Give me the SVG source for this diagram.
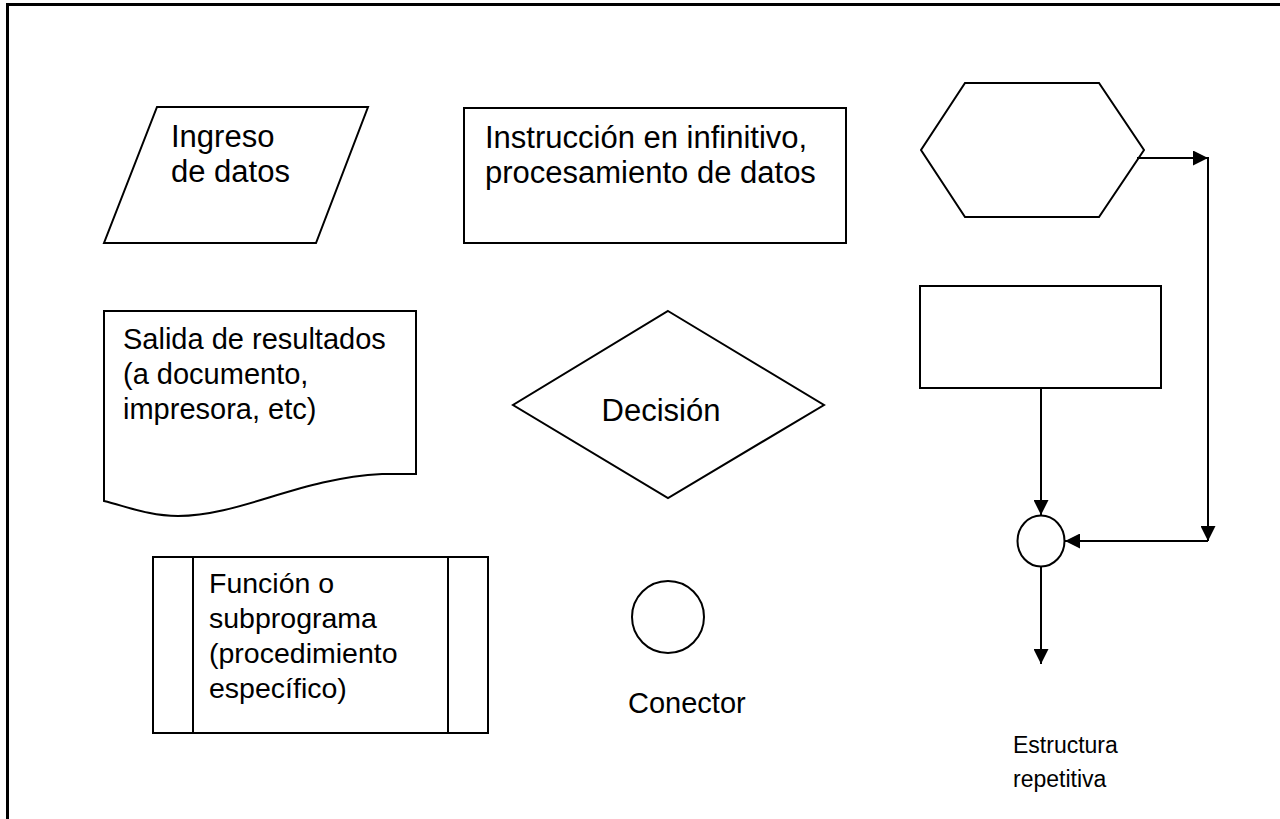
<svg xmlns="http://www.w3.org/2000/svg" width="1280" height="819" viewBox="0 0 1280 819">
<defs>
<style>
.s{fill:#fff;stroke:#000;stroke-width:2}
.l{fill:none;stroke:#000;stroke-width:2}
.t{font-family:"Liberation Sans",Arial,sans-serif;font-size:31px;fill:#000}
.m{font-family:"Liberation Sans",Arial,sans-serif;font-size:29px;fill:#000}
.f{font-family:"Liberation Sans",Arial,sans-serif;font-size:28.5px;fill:#000}
.e{font-family:"Liberation Sans",Arial,sans-serif;font-size:23px;fill:#000}
</style>
<marker id="ah" viewBox="0 0 10 10" refX="10" refY="5" markerWidth="15" markerHeight="15" markerUnits="userSpaceOnUse" orient="auto">
<path d="M0,0 L10,5 L0,10 z" fill="#000"/>
</marker>
</defs>
<rect width="1280" height="819" fill="#fff"/>
<path d="M7.5,819 V4.5 H1280" fill="none" stroke="#000" stroke-width="3"/>
<g id="ingreso">
<polygon class="s" points="157,107 368,107 316,243 104,243"/>
<text class="t"><tspan x="171" y="147">Ingreso</tspan><tspan x="171" y="182">de datos</tspan></text>
</g>
<g id="proceso">
<rect class="s" x="464" y="108" width="382" height="135"/>
<text class="t"><tspan x="485" y="148">Instrucción en infinitivo,</tspan><tspan x="485" y="183">procesamiento de datos</tspan></text>
</g>
<g id="hexagono">
<polygon class="s" points="965,83 1099,83 1144,150 1099,217 965,217 921,150"/>
</g>
<g id="salida">
<path class="s" d="M104,311 H416 V474 H382 C300,478 240,516 178,516 C150,516 128,507 104,501 Z"/>
<text class="m"><tspan x="123" y="349">Salida de resultados</tspan><tspan x="123" y="384">(a documento,</tspan><tspan x="123" y="419">impresora, etc)</tspan></text>
</g>
<g id="decision">
<polygon class="s" points="668,311 824,405 668,498 513,405"/>
<text class="t" x="661" y="421" text-anchor="middle">Decisión</text>
</g>
<g id="funcion">
<rect class="s" x="153" y="557" width="335" height="176"/>
<line class="l" x1="193" y1="557" x2="193" y2="733"/>
<line class="l" x1="448" y1="557" x2="448" y2="733"/>
<text class="f"><tspan x="209" y="593">Función o</tspan><tspan x="209" y="628">subprograma</tspan><tspan x="209" y="663">(procedimiento</tspan><tspan x="209" y="698">específico)</tspan></text>
</g>
<g id="conector">
<circle class="s" cx="668" cy="617" r="36"/>
<text class="m" x="628" y="713">Conector</text>
</g>
<g id="bloque">
<rect class="s" x="920" y="286" width="241" height="102"/>
</g>
<g id="union">
<ellipse class="s" cx="1041" cy="541" rx="23.5" ry="25.5"/>
</g>
<g id="etiqueta">
<text class="e"><tspan x="1013" y="753">Estructura</tspan><tspan x="1013" y="787">repetitiva</tspan></text>
</g>
<g id="conectores">
<line class="l" x1="1137" y1="158" x2="1208" y2="158" marker-end="url(#ah)"/>
<line class="l" x1="1208" y1="157" x2="1208" y2="541" marker-end="url(#ah)"/>
<line class="l" x1="1208" y1="541" x2="1065" y2="541" marker-end="url(#ah)"/>
<line class="l" x1="1041" y1="388" x2="1041" y2="515" marker-end="url(#ah)"/>
<line class="l" x1="1041" y1="567" x2="1041" y2="664" marker-end="url(#ah)"/>
</g>
</svg>
